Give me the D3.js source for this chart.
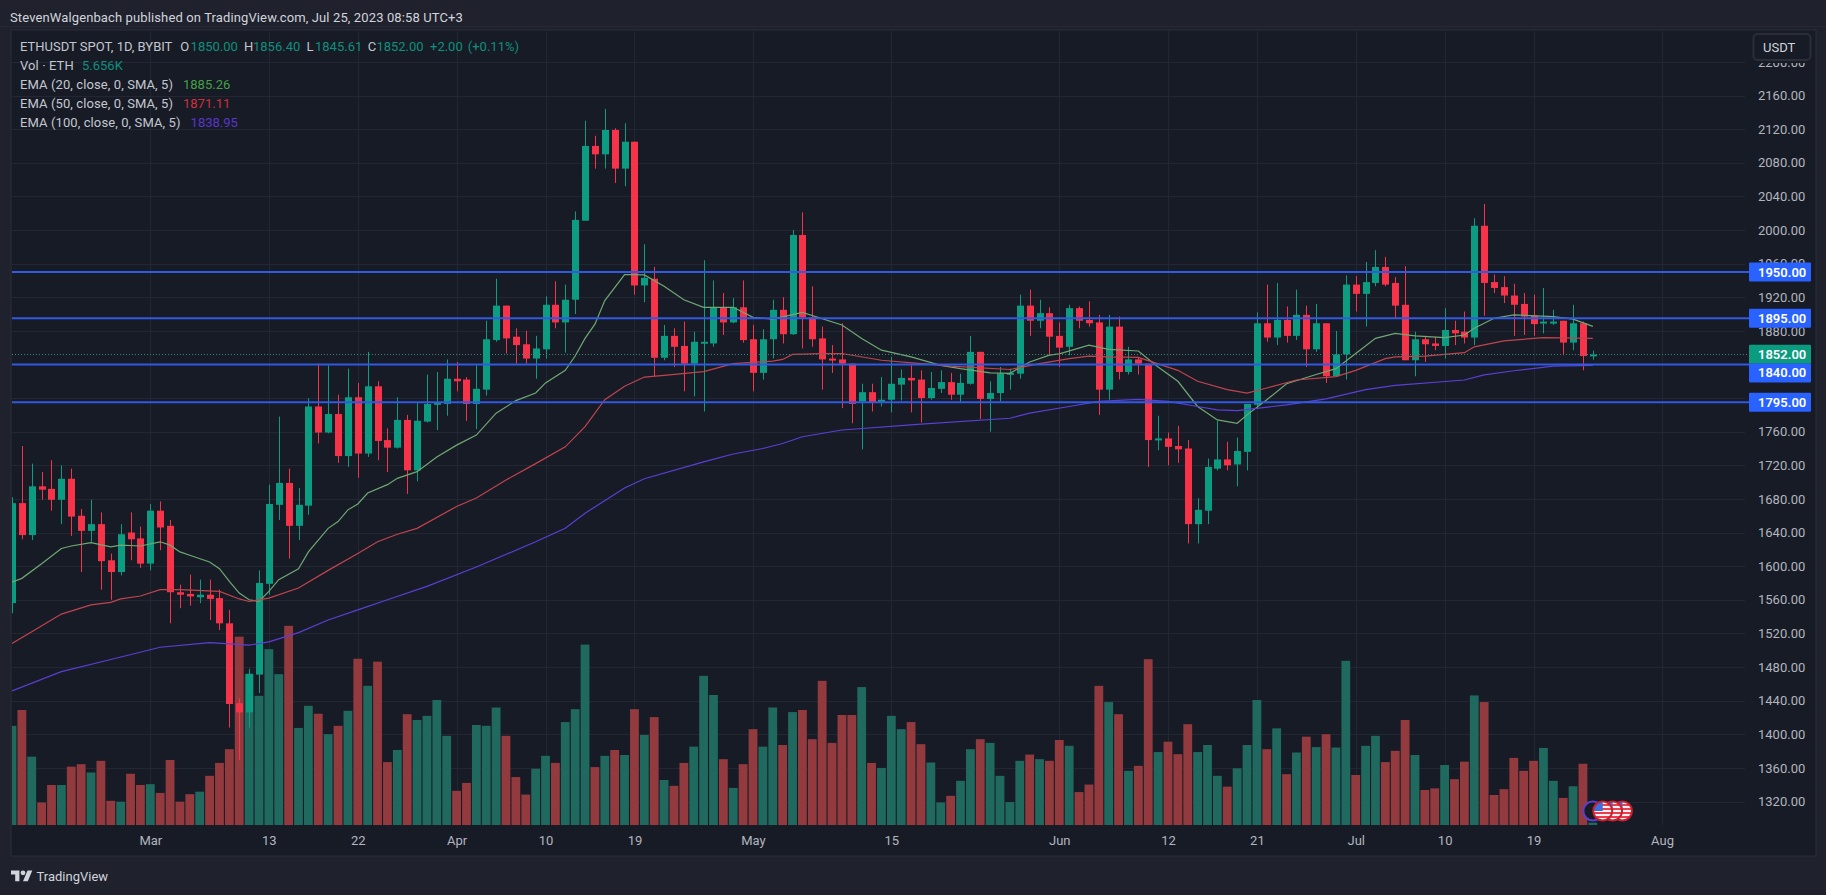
<!DOCTYPE html>
<html>
<head>
<meta charset="utf-8">
<script src="https://cdn.jsdelivr.net/npm/d3@7"></script>
<style>
  html, body { margin: 0; padding: 0; background: #1f222d; overflow: hidden; }
  text { font-family: Roboto, "Liberation Sans", sans-serif; font-size: 13px; }
</style>
</head>
<body>
<svg id="chart" width="1826" height="895"></svg>
<script>
// candles from 15 Feb 2023, one per day
const firstDay = "2023-02-15";

const opens = [
  1556,1675,1637,1695,1692,1679,1704,1660,1642,1650,
  1607,1593,1640,1633,1603,1666,1648,1569,1567,1563,
  1566,1562,1532,1437,1426,1471,1579,1673,1699,1648,
  1672,1790,1759,1781,1731,1801,1734,1814,1750,1741,
  1774,1714,1772,1792,1793,1823,1822,1793,1810,1869,
  1910,1873,1864,1847,1858,1911,1890,1917,2011,2100,
  2090,2119,2073,2105,1934,1942,1848,1874,1862,1841,
  1865.5,1865,1908,1890,1908,1870,1830,1870,1905,1876,
  1994,1896,1871,1847,1846,1841,1796,1807,1795,1798,
  1816,1824,1822,1800,1811,1819,1804,1817,1855,1799,
  1806,1828,1829,1910,1892,1901,1874,1861,1907,1893,
  1890,1810,1885,1831,1846,1841,1750.5,1752,1743,1740,
  1650,1666,1716,1727,1721,1736,1792,1889,1872,1893,
  1874,1899,1858,1889,1826,1852,1935,1924,1937,1956,
  1937,1911,1845,1870,1865,1862,1881,1879,1872,2005,
  1938,1932,1922,1912,1898,1889,1890,1892,1866,1889,
  1850
];
const highs = [
  1682,1743,1722,1712,1726,1720,1716,1668,1679,1664,
  1615,1650,1664,1647,1674,1677,1655,1578,1590,1584,
  1584,1572,1548,1443,1478,1595,1697,1778,1716,1693,
  1800,1841,1839,1804,1835,1818,1855,1820,1764,1801,
  1780,1794,1828,1831,1846,1843,1825,1839,1892,1942,
  1910,1883,1880,1874,1921,1939,1935,2022,2130,2112,
  2144,2121,2127,2105,1983,1956,1887,1883,1891,1879,
  1964,1940,1925,1919,1940,1887,1882,1917,1920,2000,
  2021,1933,1885,1863,1889,1841,1817,1817,1825,1849,
  1834,1839,1833,1831,1833,1830,1829,1874,1855,1820,
  1837,1835,1923,1929,1917,1908,1890,1911,1909,1915,
  1899,1899,1897,1861,1849,1841,1779,1759,1767,1750,
  1681,1728,1773,1748,1753,1793,1902,1935,1937,1909,
  1929,1910,1912,1889,1880,1946,1945,1962,1976,1968,
  1944,1957,1879,1874,1873,1907,1892,1903,2014,2031,
  1947,1945,1936,1925,1923,1931,1905,1892,1911,1891,
  1856.4
];
const lows = [
  1544,1632,1631,1679,1666,1650,1636,1593,1629,1572,
  1560,1589,1607,1598,1595,1619,1532,1550,1553,1556,
  1536,1524,1408,1369,1408,1449,1566,1655,1609,1631,
  1661,1746,1758,1723,1718,1705,1730,1726,1712,1740,
  1686,1701,1771,1762,1779,1808,1773,1763,1803,1867,
  1853,1841,1841,1823,1847,1883,1854,1900,2011,2073,
  2073,2056,2052,1923,1914,1826,1845,1837,1808,1802,
  1784,1861,1875,1889,1866,1808,1822,1847,1865,1875,
  1859,1861,1810,1830,1788,1770,1739,1784,1790,1783,
  1797,1783,1771,1798,1806,1798,1794,1816,1775,1760,
  1796,1810,1823,1874,1883,1851,1837,1851,1883,1885,
  1780,1798,1822,1828,1828,1718,1738,1720,1723,1627,
  1627,1650,1714,1714,1695,1714,1788,1867,1863,1866,
  1869,1837,1855,1818,1825,1822,1903,1885,1933,1933,
  1895,1845,1826,1843,1857,1847,1863,1865,1863,1898,
  1925,1913,1874,1875,1874,1877,1887,1851,1857,1833,
  1845.61
];
const closes = [
  1675,1637,1695,1691,1679,1704,1659,1642,1650,1606,
  1593,1638,1632,1603,1666,1646,1569,1566,1564,1566,
  1561,1532,1436,1426,1472,1580,1674,1699,1648,1673,
  1790,1759,1781,1731,1801,1734,1814,1749,1741,1774,
  1714,1773,1793,1795,1823,1820,1793,1811,1870,1910,
  1871,1863,1847,1859,1911,1890,1917,2012,2100,2090,
  2119,2073,2105,1934,1943,1848,1874,1861,1841,1867,
  1867,1908,1890,1908,1869,1830,1870,1905,1876,1994,
  1896,1870,1846,1845,1841,1793,1807,1795,1798,1817,
  1824,1821,1800,1812,1819,1804,1818,1855,1799,1806,
  1829,1830,1910,1892,1901,1873,1860,1907,1892,1889,
  1810,1885,1831,1846,1841,1750,1752,1742,1739,1650,
  1667,1718,1727,1720,1737,1793,1889,1872,1893,1874,
  1899,1858,1889,1826,1852,1935,1924,1938,1956,1935,
  1910,1845,1870,1864,1862,1881,1877,1872,2005,1937,
  1931,1922,1911,1897,1888,1891,1891,1866,1889,1850,
  1852
];
// volume in thousands of ETH
const volumes = [
  238,276,164,54,96,96,140,146,126,154,
  58,56,123,96,98,77,156,56,74,80,
  118,149,182,452,362,310,422,362,478,233,
  286,267,218,238,274,399,334,392,151,180,
  266,252,262,300,214,82,101,240,238,282,
  214,115,73,135,166,149,247,278,433,139,
  166,180,168,278,216,259,108,94,149,188,
  358,312,158,89,146,230,188,282,192,271,
  276,206,346,197,264,264,331,149,137,262,
  230,247,194,150,54,70,106,182,206,197,
  118,55,154,169,158,154,204,190,79,97,
  334,295,266,130,142,398,175,200,170,242,
  175,192,118,92,136,192,300,182,232,122,
  174,212,187,218,186,394,120,190,214,151,
  178,252,168,84,88,144,110,152,311,295,
  72,86,161,130,154,185,106,65,93,147,
  5.656
];

const ema20Idx = [0,1,3,5,6,8,10,11,13,15,16,17,18,20,21,22,23,24,25,26,27,29,30,32,33,34,35,36,38,39,41,43,45,47,49,51,53,54,56,57,58,59,60,62,64,66,68,70,73,75,77,80,84,86,88,91,94,96,99,101,103,105,106,109,111,114,116,118,120,122,124,125,127,129,132,134,136,138,140,142,145,147,148,150,152,156,158,160];
const ema20Val = [1581,1585.5,1603,1621,1624,1628,1623,1625,1624,1629,1625,1617,1613,1605,1597,1582,1568,1560,1558,1570,1584,1597,1617,1645,1653,1667,1674,1687,1697,1704.5,1712.5,1730,1744,1756,1782,1797,1806,1818,1833,1850,1871,1888,1916,1947,1946.5,1933,1917,1908,1908,1896,1894,1902,1887,1871,1857,1849,1839,1835,1830,1829.5,1843,1851,1852.5,1863,1858,1856,1837,1820,1790,1774,1770,1780,1798,1817,1828,1835,1853,1871,1877,1874,1872,1875,1883,1895,1899,1897,1894,1885.26];
const ema50Idx = [0,2,5,8,10,11,13,15,17,21,23,24,26,29,32,35,37,39,41,45,47,50,53,56,58,60,62,64,66,70,73,77,78,79,82,84,88,92,95,101,104,107,109,111,114,118,120,123,125,127,130,134,136,139,140,143,147,148,151,155,160];
const ema50Val = [1508,1522,1543,1554,1557,1561,1564.5,1572,1572,1570,1561,1558,1562,1574,1595,1615,1629,1638,1645,1671,1681,1702.5,1722,1742,1766,1798,1814,1825,1827,1831.5,1841,1844,1846,1852,1853,1853,1845,1841,1838,1834,1841,1847,1850,1849,1848.5,1833,1820,1810,1806,1812,1821.5,1825.5,1833,1847,1849,1850,1854,1861,1868,1872,1871.11];
const ema100Idx = [0,5,10,15,20,24,26,29,32,35,38,42,47,53,56,58,62,64,70,73,76,78,80,84,92,101,103,107,110,114,117,120,122,124,129,133,137,140,147,149,152,156,160];
const ema100Val = [1451.5,1474.5,1489,1503.5,1509,1506,1510,1521,1536,1548,1560,1576,1599,1629,1645,1663,1693,1704,1724,1733.5,1740,1746,1754,1762,1769,1776,1782,1790,1796,1798.5,1796,1790,1786,1785,1792,1799,1810,1815,1821.5,1827.5,1832.5,1838,1838.95];

const levels = [1950, 1895, 1840, 1795];
const lastPrice = 1852;
const priceTicks = d3.range(1320, 2240, 40);
// 1800 and 1840 sit fully under the level labels
const priceLabelTicks = priceTicks.filter(d => d !== 1800 && d !== 1840);
const timeTicks = ["2023-03-01","2023-03-13","2023-03-22","2023-04-01","2023-04-10","2023-04-19","2023-05-01","2023-05-15","2023-06-01","2023-06-12","2023-06-21","2023-07-01","2023-07-10","2023-07-19","2023-08-01"];
const eventDays = ["2023-07-28","2023-07-27","2023-07-25","2023-07-26"];

const legendRows = [
  { label: "Vol · ETH", value: "5.656K", vx: 82, color: "#0f8f7c" },
  { label: "EMA (20, close, 0, SMA, 5)", value: "1885.26", vx: 183, color: "#43a047" },
  { label: "EMA (50, close, 0, SMA, 5)", value: "1871.11", vx: 183, color: "#d32f3a" },
  { label: "EMA (100, close, 0, SMA, 5)", value: "1838.95", vx: 190.6, color: "#5a35c9" }
];

const upColor = "#0c9c82", downColor = "#f7334a";
const upVol = "#20695f", downVol = "#933a3e";
const textColor = "#b2b5be", levelColor = "#3059e4";

// pane edges
const paneL = 12, paneR = 1745, paneT = 31, paneB = 825, outerR = 1815, outerB = 855;

const day = d => new Date(d + "T00:00:00Z");
const dayOf = i => d3.utcDay.offset(day(firstDay), i);

const xScale = d3.scaleUtc().domain([day("2023-03-01"), day("2023-08-01")]).range([150.3, 1662]);
const yScale = d3.scaleLinear().domain([1320, 2160]).range([801.5, 95.5]);
const volScale = d3.scaleLinear().domain([0, 400]).range([paneB, paneB - 400 / 2.4]);

const svg = d3.select("#chart");

svg.append("rect").attr("width", 1826).attr("height", 895).attr("fill", "#1f222d");
svg.append("line").attr("x1", 0).attr("x2", 1826).attr("y1", 26.5).attr("y2", 26.5).attr("stroke", "#252935");

// header
svg.append("text").attr("x", 10).attr("y", 21.5).attr("fill", "#d1d4dc").attr("letter-spacing", 0.12)
  .text("StevenWalgenbach published on TradingView.com, Jul 25, 2023 08:58 UTC+3");

svg.append("rect").attr("x", paneL - 1).attr("y", paneT - 1).attr("width", outerR - paneL + 2).attr("height", outerB - paneT + 2)
  .attr("fill", "#171b26").attr("stroke", "#2a2e39");

svg.append("defs").append("clipPath").attr("id", "pane")
  .append("rect").attr("x", paneL).attr("y", paneT).attr("width", paneR - paneL).attr("height", paneB - paneT + 1);

// grid
const grid = svg.append("g").attr("stroke", "#232733");
grid.selectAll(".h").data(priceTicks).enter().append("line")
  .attr("x1", paneL).attr("x2", paneR)
  .attr("y1", d => Math.round(yScale(d)) + 0.5).attr("y2", d => Math.round(yScale(d)) + 0.5);
grid.selectAll(".v").data(timeTicks).enter().append("line")
  .attr("y1", paneT).attr("y2", paneB)
  .attr("x1", d => Math.round(xScale(day(d))) + 0.5).attr("x2", d => Math.round(xScale(day(d))) + 0.5);

const plot = svg.append("g").attr("clip-path", "url(#pane)");

// volume bars
plot.selectAll(".vol").data(volumes).enter().append("rect")
  .attr("x", (d, i) => xScale(dayOf(i)) - 4.4)
  .attr("width", 8.8)
  .attr("y", d => volScale(d))
  .attr("height", d => paneB - volScale(d))
  .attr("fill", (d, i) => closes[i] >= opens[i] ? upVol : downVol);

// support / resistance lines and the last price line
svg.selectAll(".level").data(levels).enter().append("line")
  .attr("x1", paneL).attr("x2", 1750)
  .attr("y1", d => yScale(d)).attr("y2", d => yScale(d))
  .attr("stroke", levelColor).attr("stroke-width", 2);
svg.append("line").attr("x1", paneL).attr("x2", 1750)
  .attr("y1", Math.round(yScale(lastPrice)) + 0.5).attr("y2", Math.round(yScale(lastPrice)) + 0.5)
  .attr("stroke", "#3d8478").attr("stroke-dasharray", "1 2");

// candles
const candles = plot.selectAll(".candle").data(opens).enter().append("g");
candles.append("line")
  .attr("x1", (d, i) => Math.round(xScale(dayOf(i))) + 0.5)
  .attr("x2", (d, i) => Math.round(xScale(dayOf(i))) + 0.5)
  .attr("y1", (d, i) => yScale(highs[i]))
  .attr("y2", (d, i) => yScale(lows[i]))
  .attr("stroke", (d, i) => closes[i] >= opens[i] ? upColor : downColor);
candles.append("rect")
  .attr("x", (d, i) => Math.round(xScale(dayOf(i))) - 3)
  .attr("width", 7)
  .attr("y", (d, i) => yScale(Math.max(opens[i], closes[i])))
  .attr("height", (d, i) => Math.max(2, Math.abs(yScale(opens[i]) - yScale(closes[i]))))
  .attr("fill", (d, i) => closes[i] >= opens[i] ? upColor : downColor);

// EMA lines
const emaLine = d3.line().x(d => xScale(dayOf(d[0]))).y(d => yScale(d[1]));
[[ema20Idx, ema20Val, "#6fa873"], [ema50Idx, ema50Val, "#c0444e"], [ema100Idx, ema100Val, "#5b3fd6"]].forEach(s => {
  plot.append("path").datum(d3.zip(s[0], s[1]))
    .attr("d", emaLine).attr("fill", "none").attr("stroke", s[2]).attr("stroke-width", 1.2);
});

// axes
const yAxis = d3.axisRight(yScale).tickValues(priceLabelTicks).tickSize(0).tickPadding(0).tickFormat(d3.format(".2f"));
const gy = svg.append("g").attr("transform", "translate(1758,0)").call(yAxis);
const xAxis = d3.axisBottom(xScale).tickValues(timeTicks.map(day)).tickSize(0).tickPadding(0)
  .tickFormat(d => d.getUTCDate() === 1 ? d3.utcFormat("%b")(d) : d.getUTCDate());
const gx = svg.append("g").attr("transform", `translate(0,${paneB + 10.5})`).call(xAxis);
[gy, gx].forEach(g => {
  g.select(".domain").remove();
  g.selectAll("text").attr("fill", textColor).attr("font-size", 13).attr("font-family", "Roboto, sans-serif");
});

// price labels on the axis, they cover the tick labels below them
const labels = [{ v: 1950, c: "#2962ff" }, { v: 1895, c: "#2962ff" }, { v: 1852, c: "#0b9b7f" }, { v: 1840, c: "#2962ff" }, { v: 1795, c: "#2962ff" }];
const lab = svg.selectAll(".lab").data(labels).enter().append("g")
  .attr("transform", d => `translate(1749,${d.v === 1840 ? yScale(1840) + 8.5 : yScale(d.v)})`);
lab.append("rect").attr("y", -9.5).attr("width", 62).attr("height", 19).attr("rx", 1).attr("fill", d => d.c);
lab.append("text").attr("x", 9).attr("y", 4.5).attr("fill", "#fff").attr("font-weight", 600).text(d => d3.format(".2f")(d.v));

// USDT button, hides most of the 2200 tick
svg.append("rect").attr("x", 1749).attr("y", paneT).attr("width", 65).attr("height", 32).attr("fill", "#171b26");
svg.append("rect").attr("x", 1753.5).attr("y", 34).attr("width", 57).attr("height", 26).attr("rx", 4)
  .attr("fill", "#171b26").attr("stroke", "#2a2e39").attr("stroke-width", 2);
svg.append("text").attr("x", 1763).attr("y", 52).attr("fill", "#d1d4dc").text("USDT");

// legend at the top left
const leg = svg.append("g").attr("fill", "#c4c7ce");
const seg = (x, y, t, c) => leg.append("text").attr("x", x).attr("y", y).attr("fill", c || null).text(t);
const valColor = "#0f8f7c";
seg(20, 51, "ETHUSDT SPOT, 1D, BYBIT");
seg(180.3, 51, "O"); seg(190.6, 51, "1850.00", valColor);
seg(244, 51, "H"); seg(253, 51, "1856.40", valColor);
seg(306.4, 51, "L"); seg(315, 51, "1845.61", valColor);
seg(367.7, 51, "C"); seg(376.4, 51, "1852.00", valColor);
seg(430, 51, "+2.00", valColor); seg(467.8, 51, "(+0.11%)", valColor);
legendRows.forEach((r, i) => {
  seg(20, 70 + i * 19, r.label).attr("letter-spacing", 0.1);
  seg(r.vx, 70 + i * 19, r.value, r.color);
});

// economic event flags
const evY = 811, evR = 9.5;
const evDefs = svg.select("defs");
const ev = svg.selectAll(".ev").data(eventDays).enter().append("g")
  .attr("transform", d => `translate(${xScale(day(d))},${evY})`);
ev.each(function(d, i) {
  const g = d3.select(this);
  const id = "flag" + i;
  evDefs.append("clipPath").attr("id", id).append("circle").attr("r", evR);
  if (d === "2023-07-25") {
    g.append("circle").attr("r", evR).attr("fill", "#171b26").attr("stroke", "#5b3fd0").attr("stroke-width", 2);
    return;
  }
  const f = g.append("g").attr("clip-path", `url(#${id})`);
  f.append("rect").attr("x", -evR).attr("y", -evR).attr("width", evR * 2).attr("height", evR * 2).attr("fill", "#f4f4f4");
  [-7, -3, 1, 5].forEach(s => {
    f.append("rect").attr("x", -evR).attr("y", s).attr("width", evR * 2).attr("height", 2).attr("fill", "#ef3b4c");
  });
  f.append("rect").attr("x", -evR).attr("y", -evR).attr("width", evR).attr("height", evR).attr("fill", "#3b6fe0");
  g.append("circle").attr("r", evR).attr("fill", "none").attr("stroke", "#c8202f").attr("stroke-width", 2);
});

// tradingview logo
const logo = svg.append("g").attr("transform", "translate(11,868) scale(0.6)").attr("fill", "#d1d4dc");
logo.append("path").attr("d", "M14 22H7V11H0V4h14v18zM28 22h-8l7.5-18h8L28 22z");
logo.append("circle").attr("cx", 20).attr("cy", 8).attr("r", 4);
svg.append("text").attr("x", 36.5).attr("y", 881).attr("fill", "#d1d4dc").attr("font-size", 15).text("TradingView");
</script>
</body>
</html>
